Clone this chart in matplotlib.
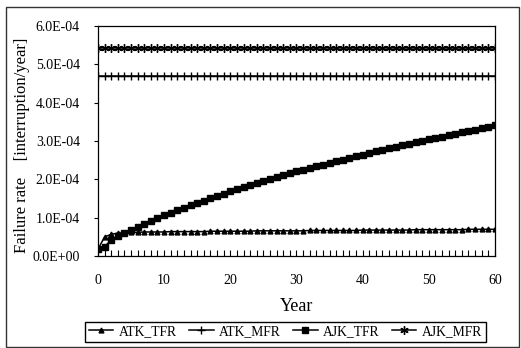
import numpy as np
import matplotlib.pyplot as plt
from matplotlib.ticker import FuncFormatter, MultipleLocator
from matplotlib.patches import Rectangle

plt.rcParams['font.family'] = ['Liberation Serif', 'DejaVu Serif']

years = np.arange(0, 61)

# values, in 1e-4 interruption/year
atk_tfr = [0.18, 0.50, 0.57, 0.60, 0.61, 0.62, 0.62, 0.63, 0.63, 0.63,
           0.63, 0.64, 0.64, 0.64, 0.64, 0.64, 0.64, 0.65, 0.65, 0.65,
           0.65, 0.65, 0.65, 0.65, 0.66, 0.66, 0.66, 0.66, 0.66, 0.66,
           0.66, 0.66, 0.67, 0.67, 0.67, 0.67, 0.67, 0.67, 0.67, 0.67,
           0.68, 0.68, 0.68, 0.68, 0.68, 0.68, 0.68, 0.68, 0.69, 0.69,
           0.69, 0.69, 0.69, 0.69, 0.69, 0.69, 0.70, 0.70, 0.70, 0.70,
           0.70]
atk_mfr = [4.70] * 61
ajk_tfr = [0.18, 0.25, 0.42, 0.52, 0.60, 0.68, 0.77, 0.85, 0.92, 0.99,
           1.06, 1.13, 1.20, 1.26, 1.33, 1.39, 1.45, 1.51, 1.57, 1.63,
           1.69, 1.75, 1.80, 1.86, 1.91, 1.96, 2.01, 2.06, 2.11, 2.16,
           2.21, 2.25, 2.30, 2.34, 2.39, 2.43, 2.48, 2.52, 2.56, 2.60,
           2.65, 2.69, 2.73, 2.77, 2.81, 2.85, 2.89, 2.93, 2.97, 3.01,
           3.05, 3.08, 3.12, 3.16, 3.19, 3.23, 3.27, 3.30, 3.34, 3.38,
           3.42]
ajk_mfr = [5.44] * 61

series = [
    ("ATK_TFR", atk_tfr, "^", 3.5),
    ("ATK_MFR", atk_mfr, "+", 6),
    ("AJK_TFR", ajk_tfr, "s", 4),
    ("AJK_MFR", ajk_mfr, (6, 2, 0), 6),
]

fig = plt.figure(figsize=(5.21, 3.48), dpi=100)
ax = fig.add_axes([0.188, 0.264, 0.762, 0.661])

for name, vals, mk, ms in series:
    ax.plot(years, np.array(vals) * 1e-4, color="black", lw=1.1,
            marker=mk, markersize=ms, markeredgewidth=1.0, label=name)

ax.set_xlim(0, 60)
ax.set_ylim(0, 6e-4)
ax.xaxis.set_major_locator(MultipleLocator(10))
ax.xaxis.set_minor_locator(MultipleLocator(1))
ax.yaxis.set_major_locator(MultipleLocator(1e-4))
ax.yaxis.set_major_formatter(FuncFormatter(
    lambda v, p: "%.1fE%+03d" % (v / 1e-4, -4) if v > 1e-12 else "0.0E+00"))

ax.tick_params(axis="x", which="both", direction="in", length=4,
               width=0.8, labelsize=10, pad=13)
ax.tick_params(axis="y", direction="out", length=3, width=0.8,
               labelsize=10, pad=10)
for s in ax.spines.values():
    s.set_linewidth(0.9)

ax.set_xlabel("Year", fontsize=13, labelpad=8)
ax.set_ylabel("Failure rate    [interruption/year]", fontsize=12)
ax.yaxis.set_label_coords(-0.172, 0.48)

fig.legend(loc="center", bbox_to_anchor=(0.548, 0.047), ncol=4,
           fontsize=9.8, frameon=True, fancybox=False, framealpha=1,
           edgecolor="black", handlelength=1.8, handletextpad=0.4,
           columnspacing=0.9, borderpad=0.25)

fig.patches.append(Rectangle((6 / 521, 1 / 348), 513 / 521, 340 / 348,
                             transform=fig.transFigure, fill=False,
                             edgecolor="#333333", lw=1.0))

fig.savefig("out.png", dpi=100)
